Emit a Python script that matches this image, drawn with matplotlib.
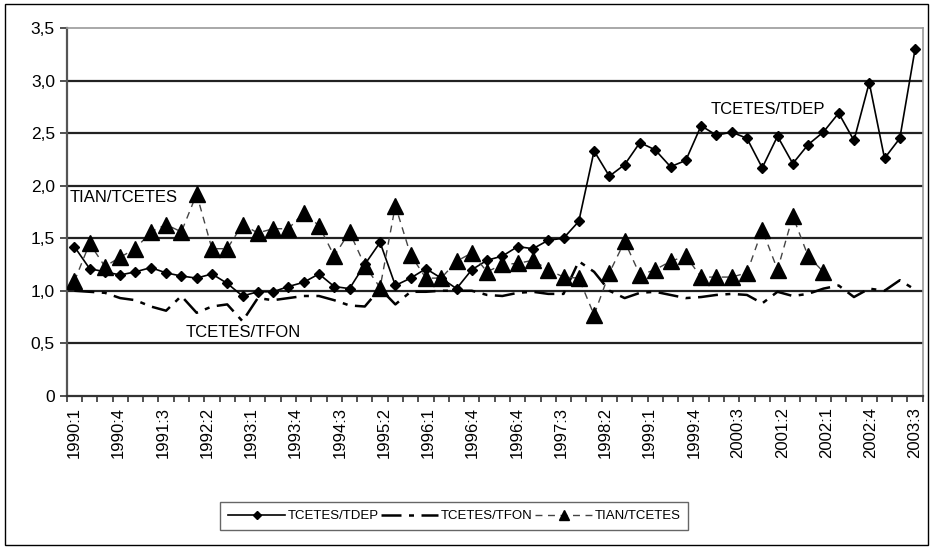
import numpy as np
import matplotlib
matplotlib.use("Agg")
import matplotlib.pyplot as plt
from matplotlib.ticker import FixedLocator, FuncFormatter
from matplotlib.patches import Rectangle
from matplotlib.lines import Line2D

# quarterly ratios, 1990:1 .. 2003:3 (56 points as drawn in the source chart)
tcetes_tdep = [1.42, 1.21, 1.18, 1.15, 1.18, 1.22, 1.17, 1.14, 1.12, 1.16,
               1.07, 0.95, 0.99, 0.99, 1.04, 1.08, 1.16, 1.04, 1.02, 1.25,
               1.46, 1.05, 1.12, 1.21, 1.12, 1.02, 1.20, 1.29, 1.33, 1.42,
               1.40, 1.48, 1.50, 1.66, 2.33, 2.09, 2.20, 2.41, 2.34, 2.18,
               2.24, 2.57, 2.48, 2.51, 2.45, 2.17, 2.47, 2.21, 2.39, 2.51,
               2.69, 2.43, 2.98, 2.26, 2.45, 3.30]

tcetes_tfon = [1.00, 0.99, 0.98, 0.93, 0.91, 0.85, 0.81, 0.95, 0.79, 0.85,
               0.87, 0.71, 0.93, 0.91, 0.93, 0.95, 0.95, 0.91, 0.86, 0.85,
               1.02, 0.87, 0.99, 0.99, 1.00, 1.00, 1.00, 0.96, 0.95, 0.98,
               0.99, 0.97, 0.97, 1.28, 1.18, 1.00, 0.93, 0.98, 0.99, 0.96,
               0.93, 0.94, 0.96, 0.97, 0.96, 0.88, 0.99, 0.95, 0.97, 1.02,
               1.05, 0.94, 1.02, 1.00, 1.10, 1.01]

tian_tcetes = [1.09, 1.45, 1.23, 1.32, 1.40, 1.56, 1.63, 1.56, 1.92, 1.40,
               1.40, 1.63, 1.55, 1.59, 1.59, 1.74, 1.62, 1.33, 1.56, 1.24,
               1.03, 1.81, 1.34, 1.12, 1.12, 1.28, 1.36, 1.18, 1.25, 1.26,
               1.29, 1.20, 1.13, 1.12, 0.77, 1.17, 1.47, 1.15, 1.20, 1.28,
               1.33, 1.13, 1.13, 1.13, 1.17, 1.58, 1.20, 1.71, 1.33, 1.18,
               np.nan, np.nan, np.nan, np.nan, np.nan, np.nan]

tick_labels = ["1990:1", "1990:4", "1991:3", "1992:2", "1993:1", "1993:4",
               "1994:3", "1995:2", "1996:1", "1996:4", "1996:4", "1997:3",
               "1998:2", "1999:1", "1999:4", "2000:3", "2001:2", "2002:1",
               "2002:4", "2003:3"]

plt.rcParams["font.family"] = ["Liberation Sans", "DejaVu Sans"]

n = len(tcetes_tdep)
x = np.arange(n)

fig = plt.figure(figsize=(9.33, 5.49), dpi=100)
ax = fig.add_axes([0.0715, 0.279, 0.9175, 0.670])

ax.plot(x, tcetes_tdep, color="black", lw=1.2, marker="D", markersize=5,
        label="TCETES/TDEP", zorder=4)
ax.plot(x, tcetes_tfon, color="black", lw=1.8, dashes=(8, 3, 2, 3),
        label="TCETES/TFON", zorder=3)
ax.plot(x, tian_tcetes, color="#444444", lw=1.0, dashes=(5, 4), marker="^",
        markersize=11, markerfacecolor="black", markeredgecolor="black",
        label="TIAN/TCETES", zorder=5)

ax.set_xlim(-0.5, n - 0.5)
ax.set_ylim(0, 3.5)

# grid lines every 0.5
ax.yaxis.set_major_locator(FixedLocator(np.arange(0, 3.51, 0.5)))
ax.yaxis.set_major_formatter(FuncFormatter(
    lambda v, p: "0" if v == 0 else f"{v:.1f}".replace(".", ",")))
for v in np.arange(0.5, 3.01, 0.5):
    ax.axhline(v, color="#222222", lw=1.6, zorder=1)

# category ticks between points, labels spread over the axis
ax.xaxis.set_minor_locator(FixedLocator(np.arange(-0.5, n, 1)))
ax.xaxis.set_major_locator(FixedLocator(np.linspace(0, n - 1, len(tick_labels))))
ax.set_xticklabels(tick_labels, rotation=90)
ax.tick_params(axis="x", which="major", length=0, pad=8, labelsize=12)
ax.tick_params(axis="x", which="minor", length=4, width=1.2, color="#333333")
ax.tick_params(axis="y", length=5, width=1.2, color="#333333", labelsize=12.5)

for side in ["top", "right"]:
    ax.spines[side].set_color("#999999")
    ax.spines[side].set_linewidth(1.2)
ax.spines["left"].set_color("#555555")
ax.spines["left"].set_linewidth(1.6)
ax.spines["bottom"].set_color("#333333")
ax.spines["bottom"].set_linewidth(1.6)

ax.text(41.6, 2.72, "TCETES/TDEP", fontsize=12, va="center")
ax.text(-0.3, 1.89, "TIAN/TCETES", fontsize=12, va="center")
ax.text(7.3, 0.60, "TCETES/TFON", fontsize=12, va="center")

handles = [
    Line2D([], [], color="black", lw=1.2, marker="D", markersize=4.5),
    Line2D([], [], color="black", lw=1.8, dashes=(8, 3, 2, 3)),
    Line2D([], [], color="#444444", lw=1.0, dashes=(5, 4), marker="^",
           markersize=7, markerfacecolor="black", markeredgecolor="black"),
]
leg = fig.legend(handles, ["TCETES/TDEP", "TCETES/TFON", "TIAN/TCETES"],
                 loc="center", bbox_to_anchor=(0.487, 0.06), ncol=3,
                 fancybox=False, edgecolor="#666666", framealpha=1,
                 handlelength=4.3, handletextpad=0.2, columnspacing=0.2,
                 borderpad=0.6, prop={"size": 9.5})
leg.get_frame().set_linewidth(1.0)

fig.patches.append(Rectangle((0.005, 0.007), 0.99, 0.985, transform=fig.transFigure,
                             fill=False, edgecolor="black", lw=1.0))

fig.savefig("out.png", dpi=100)
